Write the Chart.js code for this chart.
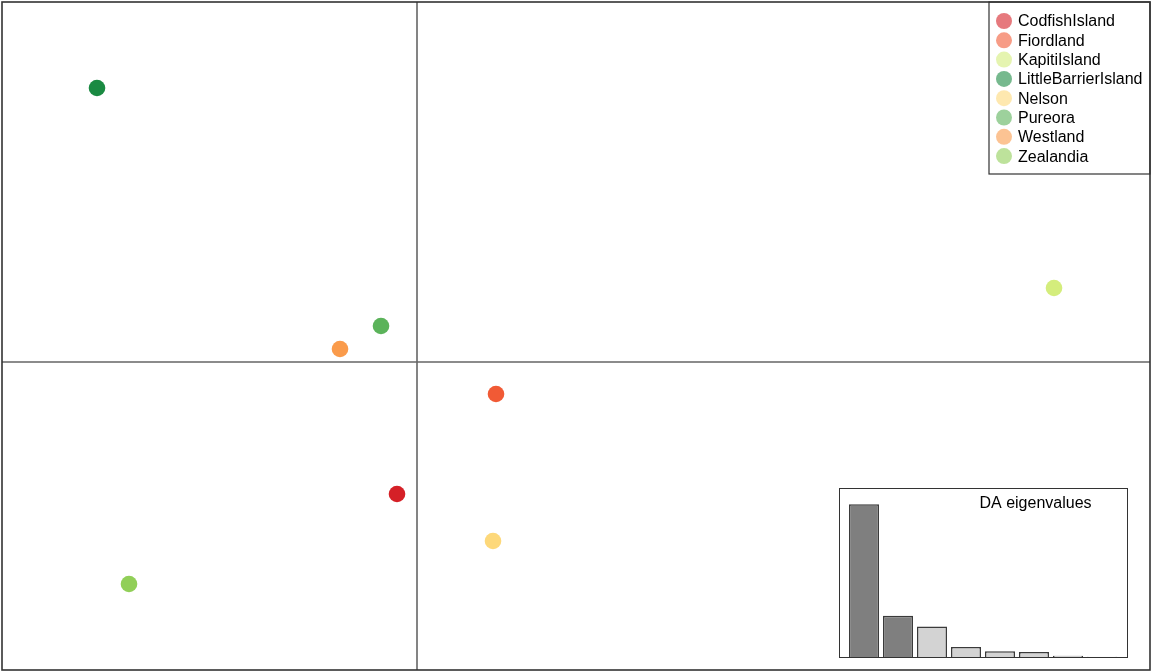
<!DOCTYPE html>
<html>
<head>
<meta charset="utf-8">
<script src="https://cdn.jsdelivr.net/npm/chart.js@4/dist/chart.umd.min.js"></script>
<style>
  html, body { margin: 0; padding: 0; background: #fff; }
  #wrap { position: relative; width: 1152px; height: 672px; }
  #main { position: absolute; left: 0; top: 0; }
  #inset { position: absolute; left: 839px; top: 488px; width: 289px; height: 170px;
           box-sizing: border-box; border: 1px solid #333; background: #fff; }
  #eig { display: block; }
</style>
</head>
<body>
<div id="wrap">
  <canvas id="main" width="1152" height="672"></canvas>
  <div id="inset"><canvas id="eig" width="287" height="168"></canvas></div>
</div>
<script>
// ---- data ----
const populations = ['CodfishIsland', 'Fiordland', 'KapitiIsland', 'LittleBarrierIsland', 'Nelson', 'Pureora', 'Westland', 'Zealandia'];
const popColors = ['#D52027', '#F15A35', '#D4ED7C', '#1A8A42', '#FDD87A', '#5BB35A', '#FA9B4B', '#91CF58'];
const ld1 = [-0.40, 1.58, 12.74, -6.40, 1.52, -0.72, -1.54, -5.76];
const ld2 = [-2.64, -0.64, 1.48, 5.48, -3.58, 0.72, 0.26, -4.44];
const eigLabels = ['1', '2', '3', '4', '5', '6', '7', '8'];
const eigenvalues = [100, 27, 20, 6.6, 3.7, 3.3, 0.9, 0.2];
const eigColors = ['#7F7F7F', '#7F7F7F', '#D3D3D3', '#D3D3D3', '#D3D3D3', '#D3D3D3', '#D3D3D3', '#D3D3D3'];

const FONT = '"Liberation Sans", Arial, sans-serif';

function hexA(hex, a) {
  const r = parseInt(hex.slice(1, 3), 16), g = parseInt(hex.slice(3, 5), 16), b = parseInt(hex.slice(5, 7), 16);
  return `rgba(${r},${g},${b},${a})`;
}

const crossPlugin = {
  id: 'cross',
  beforeDatasetsDraw(chart) {
    const { ctx, chartArea: a, scales: { x, y } } = chart;
    const px = x.getPixelForValue(0), py = y.getPixelForValue(0);
    ctx.save();
    ctx.strokeStyle = '#666';
    ctx.lineWidth = 1.6;
    ctx.beginPath();
    ctx.moveTo(px, a.top); ctx.lineTo(px, a.bottom);
    ctx.moveTo(a.left, py); ctx.lineTo(a.right, py);
    ctx.stroke();
    ctx.restore();
  },
  afterDraw(chart) {
    const { ctx, chartArea: a } = chart;
    ctx.save();
    // legend
    const lx = 989, ly = a.top, lw = a.right - 989, lh = 174 - a.top;
    ctx.fillStyle = '#fff';
    ctx.fillRect(lx, ly, lw, lh);
    ctx.strokeStyle = '#333';
    ctx.lineWidth = 1.2;
    ctx.strokeRect(lx, ly, lw, lh);
    ctx.font = '16px ' + FONT;
    ctx.textBaseline = 'middle';
    ctx.textAlign = 'left';
    populations.forEach((p, i) => {
      const cy = 21 + i * 19.3;
      ctx.fillStyle = hexA(popColors[i], 0.6);
      ctx.beginPath();
      ctx.arc(1004, cy, 8, 0, Math.PI * 2);
      ctx.fill();
      ctx.fillStyle = '#000';
      ctx.fillText(p, 1018, cy + 1);
    });
    // frame
    ctx.strokeStyle = '#333';
    ctx.lineWidth = 1.6;
    ctx.strokeRect(a.left, a.top, a.right - a.left, a.bottom - a.top);
    ctx.restore();
  }
};

new Chart(document.getElementById('main'), {
  type: 'scatter',
  data: {
    datasets: populations.map((p, i) => ({
      label: p,
      data: [{ x: ld1[i], y: ld2[i] }],
      backgroundColor: popColors[i],
      borderWidth: 0,
      pointRadius: 8.3,
      pointHoverRadius: 8.3
    }))
  },
  options: {
    responsive: false,
    animation: false,
    events: [],
    layout: { autoPadding: false, padding: { left: 2, right: 2, top: 2, bottom: 2 } },
    plugins: { legend: { display: false }, tooltip: { enabled: false } },
    scales: {
      x: { type: 'linear', display: false, min: -8.30, max: 14.66 },
      y: { type: 'linear', display: false, min: -6.16, max: 7.20 }
    }
  },
  plugins: [crossPlugin]
});

const titlePlugin = {
  id: 'insetTitle',
  afterDraw(chart) {
    const { ctx } = chart;
    ctx.save();
    ctx.font = '16px ' + FONT;
    ctx.fillStyle = '#000';
    ctx.textAlign = 'center';
    ctx.textBaseline = 'middle';
    ctx.fillText('DA eigenvalues', 195.5, 14.5);
    ctx.restore();
  }
};

new Chart(document.getElementById('eig'), {
  type: 'bar',
  data: {
    labels: eigLabels,
    datasets: [{
      data: eigenvalues,
      backgroundColor: eigColors,
      borderColor: '#3a3a3a',
      borderWidth: 1.5,
      categoryPercentage: 1,
      barPercentage: 0.882
    }]
  },
  options: {
    responsive: false,
    animation: false,
    events: [],
    layout: { autoPadding: false, padding: { left: 7, right: 8, top: 0, bottom: 0 } },
    plugins: { legend: { display: false }, tooltip: { enabled: false } },
    scales: {
      x: { display: false },
      y: { display: false, min: 0, max: 110 }
    }
  },
  plugins: [titlePlugin]
});
</script>
</body>
</html>
